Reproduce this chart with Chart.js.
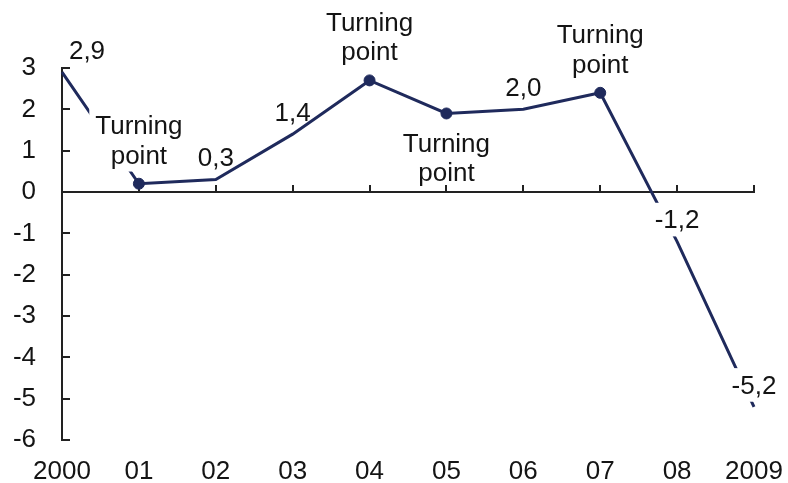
<!DOCTYPE html>
<html>
<head>
<meta charset="utf-8">
<title>Growth 2000–2009</title>
<script src="https://cdn.jsdelivr.net/npm/chart.js@4/dist/chart.umd.min.js"></script>
<style>
  html, body { margin: 0; padding: 0; background: #ffffff; }
  #wrap { width: 788px; height: 483px; }
</style>
</head>
<body>
<div id="wrap"><canvas id="chart" width="788" height="483"></canvas></div>
<script>
// Annual change, 2000–2009
const years = ['2000', '01', '02', '03', '04', '05', '06', '07', '08', '2009'];
const growth = [2.9, 0.2, 0.3, 1.4, 2.7, 1.9, 2.0, 2.4, -1.2, -5.2];
const turningPoints = [1, 4, 5, 7];
const turningText = ['Turning', 'point'];
const yMin = -6;
const yMax = 3;

const LINE = '#1f2a5c';
const INK = '#141414';
const FONT = '"Liberation Sans", Arial, Helvetica, sans-serif';
const SIZE = 26;
const CAP_HALF = SIZE * 0.358;

const fmt = v => v.toFixed(1).replace('.', ',');

// Axis at zero with upward ticks, and inward ticks on the value axis
const axesPlugin = {
  id: 'axesPlugin',
  beforeDatasetsDraw(chart) {
    const { ctx, chartArea, scales: { x, y } } = chart;
    ctx.save();
    ctx.strokeStyle = '#222222';
    ctx.lineWidth = 2;
    const y0 = Math.round(y.getPixelForValue(0));
    ctx.beginPath();
    ctx.moveTo(x.getPixelForValue(0) - 1, y0);
    ctx.lineTo(x.getPixelForValue(years.length - 1) + 1, y0);
    years.forEach((_, i) => {
      const px = Math.round(x.getPixelForValue(i));
      ctx.moveTo(px, y0);
      ctx.lineTo(px, y0 - 7);
    });
    y.ticks.forEach(t => {
      const py = Math.round(y.getPixelForValue(t.value));
      ctx.moveTo(chartArea.left, py);
      ctx.lineTo(chartArea.left + 8, py);
    });
    ctx.stroke();
    ctx.restore();
  }
};

// Value labels and "Turning point" notes, with white backing where they sit on the line
const labelPlugin = {
  id: 'labelPlugin',
  afterDatasetsDraw(chart, args, opts) {
    const { ctx, scales: { x, y } } = chart;
    ctx.save();
    ctx.font = SIZE + 'px ' + FONT;
    ctx.textAlign = 'center';
    ctx.textBaseline = 'alphabetic';

    const drawBlock = (lines, cx, firstCap, step, opaque) => {
      if (opaque) {
        const w = Math.max(...lines.map(l => ctx.measureText(l).width));
        const top = firstCap - CAP_HALF - 7;
        const bottom = firstCap + step * (lines.length - 1) + CAP_HALF + 8;
        ctx.fillStyle = '#ffffff';
        ctx.fillRect(cx - w / 2 - 6, top, w + 12, bottom - top);
      }
      ctx.fillStyle = INK;
      lines.forEach((l, k) => {
        ctx.fillText(l, cx, firstCap + step * k + CAP_HALF);
      });
    };

    growth.forEach((v, i) => {
      const px = x.getPixelForValue(i);
      const py = y.getPixelForValue(v);
      const opaque = opts.opaque.includes(i);
      if (turningPoints.includes(i)) {
        const below = opts.below.includes(i);
        const first = below ? py + 29 : py - 59;
        drawBlock(turningText, px, first, 29.5, opaque);
      } else {
        const dx = i === 0 ? 25 : 0;
        drawBlock([fmt(v)], px + dx, py - 22.5, 0, opaque);
      }
    });
    ctx.restore();
  }
};

new Chart(document.getElementById('chart'), {
  type: 'line',
  data: {
    labels: years,
    datasets: [{
      data: growth,
      borderColor: LINE,
      borderWidth: 3,
      tension: 0,
      fill: false,
      clip: false,
      pointRadius: growth.map((_, i) => turningPoints.includes(i) ? 5.5 : 0),
      pointBorderWidth: 1,
      pointBackgroundColor: LINE,
      pointBorderColor: LINE,
      pointHoverRadius: 0
    }]
  },
  options: {
    responsive: false,
    animation: false,
    events: [],
    layout: { padding: { top: 68, right: 34, bottom: 0, left: 0 } },
    plugins: {
      legend: { display: false },
      tooltip: { enabled: false },
      labelPlugin: { opaque: [1, 8, 9], below: [5] }
    },
    scales: {
      x: {
        type: 'category',
        offset: false,
        grid: { display: false, drawTicks: false },
        border: { display: false },
        ticks: {
          color: INK,
          font: { family: FONT, size: SIZE },
          padding: 16,
          maxRotation: 0,
          autoSkip: false
        },
        afterFit(scale) {
          scale.height = 43;
          scale.paddingLeft = 0;
          scale.paddingRight = 0;
        }
      },
      y: {
        min: yMin,
        max: yMax,
        grid: { display: false, drawTicks: false, drawOnChartArea: false },
        border: { display: true, color: '#222222', width: 2 },
        ticks: {
          stepSize: 1,
          color: INK,
          font: { family: FONT, size: SIZE },
          padding: 26
        },
        afterFit(scale) { scale.width = 62; }
      }
    }
  },
  plugins: [axesPlugin, labelPlugin]
});
</script>
</body>
</html>
